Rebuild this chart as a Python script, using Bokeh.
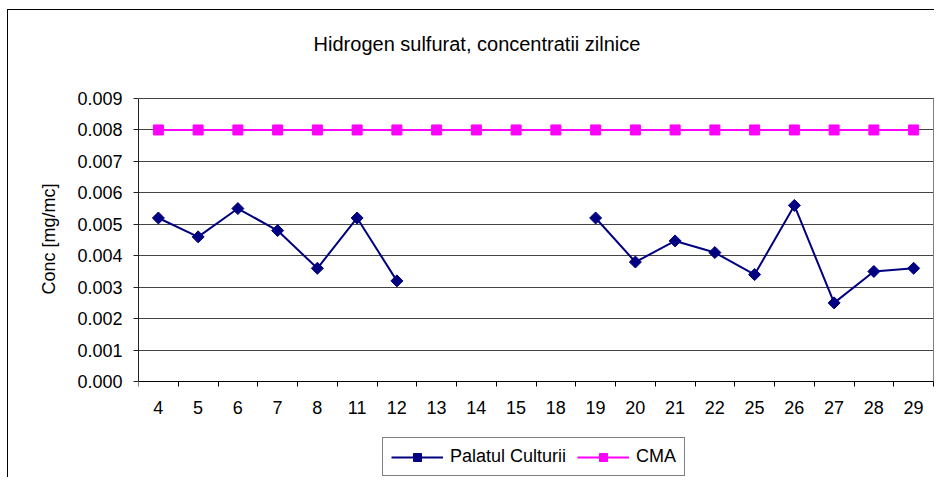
import numpy as np
from bokeh.plotting import figure
from bokeh.models import (ColumnDataSource, FixedTicker, NumeralTickFormatter,
                          Legend, LegendItem, Label, Range1d)
from bokeh.embed import file_html
from bokeh.resources import INLINE

# ---- data ----
days = ["4", "5", "6", "7", "8", "11", "12", "13", "14", "15", "18", "19",
        "20", "21", "22", "25", "26", "27", "28", "29"]
palatul_culturii = [0.0052, 0.0046, 0.0055, 0.0048, 0.0036, 0.0052, 0.0032,
                    np.nan, np.nan, np.nan, np.nan, 0.0052, 0.0038, 0.00447,
                    0.0041, 0.0034, 0.0056, 0.0025, 0.0035, 0.0036]
cma = [0.008] * len(days)
y_ticks = [0.0, 0.001, 0.002, 0.003, 0.004, 0.005, 0.006, 0.007, 0.008, 0.009]
title_text = "Hidrogen sulfurat, concentratii zilnice"
y_label = "Conc [mg/mc]"

FONT = "Liberation Sans"
FS = "18px"

# ---- layout (pixels) ----
W, H = 934, 477
LEFT = 138            # plot-area left edge
PA_RIGHT = 933        # plot-area right edge
PA_TOP, PA_BOTTOM = 98, 381
ppu = (PA_BOTTOM - PA_TOP) / y_ticks[-1]
ppx = (PA_RIGHT - LEFT) / len(days)

xpos = [i + 0.5 for i in range(len(days))]
src = ColumnDataSource(dict(x=xpos, pc=palatul_culturii, cma=cma))

p = figure(width=W, height=H, output_backend="svg", toolbar_location=None,
           x_range=Range1d(0, len(days) + (W - PA_RIGHT) / ppx),
           y_range=Range1d(-(H - PA_BOTTOM) / ppu, y_ticks[-1] + PA_TOP / ppu))
p.min_border_left = LEFT
p.min_border_right = 0
p.min_border_top = 0
p.min_border_bottom = 0
p.background_fill_alpha = 0
p.border_fill_alpha = 0
p.outline_line_color = None
p.styles = {
    "background": "linear-gradient(#000,#000) 7px 9px / 1px 100% no-repeat, "
                  "linear-gradient(#000,#000) 7px 9px / 100% 1px no-repeat, #fff"
}

# axes
p.xaxis.fixed_location = 0
p.xaxis.bounds = (0, len(days))
p.xaxis.ticker = FixedTicker(ticks=xpos, minor_ticks=list(range(len(days) + 1)))
p.xaxis.major_label_overrides = {x: d for x, d in zip(xpos, days)}
p.xaxis.major_tick_out = 0
p.xaxis.major_tick_in = 0
p.xaxis.minor_tick_out = 5
p.xaxis.minor_tick_in = 0
p.xaxis.minor_tick_line_color = "black"
p.xaxis.axis_line_color = "black"
p.xaxis.major_label_standoff = 14
p.xaxis.major_label_text_font = FONT
p.xaxis.major_label_text_font_size = FS
p.xaxis.major_label_text_color = "black"

p.yaxis.bounds = (y_ticks[0], y_ticks[-1])
p.yaxis.ticker = FixedTicker(ticks=y_ticks)
p.yaxis.formatter = NumeralTickFormatter(format="0.000")
p.yaxis.major_tick_out = 5
p.yaxis.major_tick_in = 0
p.yaxis.minor_tick_line_color = None
p.yaxis.axis_line_color = "#222222"
p.yaxis.major_tick_line_color = "#222222"
p.yaxis.major_label_standoff = 11
p.yaxis.major_label_text_font = FONT
p.yaxis.major_label_text_font_size = FS
p.yaxis.major_label_text_color = "black"
p.yaxis.axis_label = y_label
p.yaxis.axis_label_text_font = FONT
p.yaxis.axis_label_text_font_size = FS
p.yaxis.axis_label_text_font_style = "normal"
p.yaxis.axis_label_text_color = "black"
p.yaxis.axis_label_standoff = 15

p.xgrid.grid_line_color = None
p.ygrid.ticker = FixedTicker(ticks=y_ticks[1:])
p.ygrid.bounds = (0, len(days))
p.ygrid.grid_line_color = "#444444"
p.ygrid.grid_line_width = 1

# plot-area right border
p.segment(x0=[len(days)], y0=[y_ticks[0]], x1=[len(days)], y1=[y_ticks[-1]],
          line_color="#808080", line_width=1)

# series
l1 = p.line("x", "pc", source=src, line_color="#000080", line_width=2)
m1 = p.scatter("x", "pc", source=src, marker="square", angle=np.pi / 4,
               size=8.5, fill_color="#000080", line_color="#000080")
l2 = p.line("x", "cma", source=src, line_color="#FF00FF", line_width=2)
m2 = p.scatter("x", "cma", source=src, marker="square", size=10,
               fill_color="#FF00FF", line_color="#FF00FF")

legend = Legend(items=[LegendItem(label="Palatul Culturii", renderers=[l1, m1]),
                       LegendItem(label="CMA", renderers=[l2, m2])],
                location=(382 - LEFT, H - 476), orientation="horizontal",
                glyph_width=52, glyph_height=20, label_standoff=7, spacing=11,
                padding=8, margin=0,
                border_line_color="black", border_line_width=1,
                background_fill_color="white", background_fill_alpha=1,
                label_text_font=FONT, label_text_font_size=FS,
                label_text_color="black")
p.add_layout(legend, "center")

title = Label(x=476.5 - LEFT, y=H - 43.5, x_units="screen", y_units="screen",
              text=title_text, text_align="center", text_baseline="alphabetic",
              text_font=FONT, text_font_size="20px", text_color="black")
p.add_layout(title)

open("out.html", "w").write(file_html(p, INLINE))
